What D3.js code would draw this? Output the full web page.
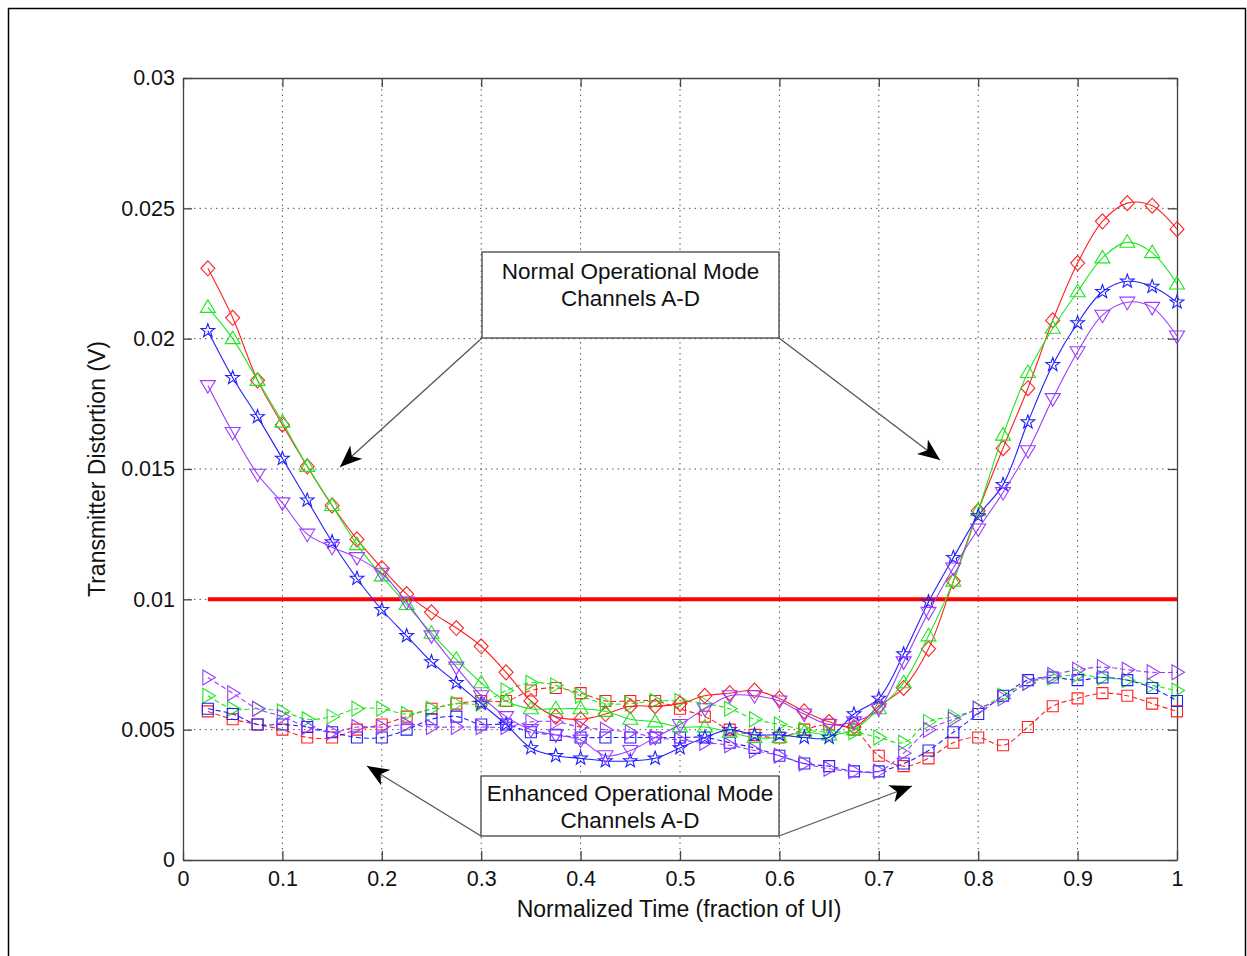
<!DOCTYPE html>
<html><head><meta charset="utf-8">
<script src="https://cdn.jsdelivr.net/npm/d3@7"></script>
<style>body{margin:0;background:#fff;} svg{display:block;font-family:"Liberation Sans",Arial,Helvetica,sans-serif;}</style>
</head><body>
<svg id="c" width="1247" height="956"></svg>
<script>
// ---------------- DATA ----------------
const timeValues = [0.025,0.05,0.075,0.1,0.125,0.15,0.175,0.2,0.225,0.25,0.275,0.3,0.325,0.35,0.375,0.4,0.425,0.45,0.475,0.5,0.525,0.55,0.575,0.6,0.625,0.65,0.675,0.7,0.725,0.75,0.775,0.8,0.825,0.85,0.875,0.9,0.925,0.95,0.975,1.0];

// Normal operational mode (solid lines)
const normalA = [0.0227,0.0208,0.0184,0.0167,0.0151,0.0136,0.0123,0.0112,0.0102,0.0095,0.0089,0.0082,0.0072,0.0061,0.0055,0.0054,0.0056,0.0059,0.0059,0.0060,0.0063,0.0064,0.0065,0.0062,0.0057,0.0053,0.0051,0.0059,0.0066,0.0081,0.0107,0.0134,0.0158,0.0181,0.0207,0.0229,0.0245,0.0252,0.0251,0.0242];
const normalB = [0.0212,0.0200,0.0184,0.0168,0.0151,0.0136,0.0121,0.0109,0.0098,0.0087,0.0077,0.0068,0.0061,0.0058,0.0058,0.0058,0.0057,0.0054,0.0053,0.0051,0.0051,0.0049,0.0047,0.0047,0.0049,0.0048,0.0050,0.0058,0.0068,0.0086,0.0107,0.0134,0.0163,0.0187,0.0204,0.0218,0.0231,0.0237,0.0233,0.0221];
const normalC = [0.0203,0.0185,0.0170,0.0154,0.0138,0.0122,0.0108,0.0096,0.0086,0.0076,0.0068,0.0060,0.0052,0.0043,0.0040,0.0039,0.0038,0.0038,0.0039,0.0043,0.0047,0.0050,0.0048,0.0048,0.0047,0.0047,0.0056,0.0062,0.0079,0.0099,0.0116,0.0132,0.0144,0.0168,0.0190,0.0206,0.0218,0.0222,0.0220,0.0214];
const normalD = [0.0182,0.0164,0.0148,0.0137,0.0125,0.0120,0.0116,0.0110,0.0099,0.0086,0.0074,0.0063,0.0055,0.0050,0.0048,0.0046,0.0040,0.0042,0.0047,0.0052,0.0058,0.0063,0.0063,0.0061,0.0056,0.0052,0.0053,0.0058,0.0076,0.0095,0.0112,0.0127,0.0141,0.0157,0.0177,0.0195,0.0209,0.0214,0.0212,0.0201];

// Enhanced operational mode (dashed lines)
const enhancedA = [0.0057,0.0054,0.0052,0.0050,0.0047,0.0047,0.0050,0.0052,0.0055,0.0058,0.0060,0.0061,0.0061,0.0065,0.0066,0.0064,0.0061,0.0061,0.0061,0.0058,0.0055,0.0050,0.0048,0.0047,0.0050,0.0052,0.0050,0.0040,0.0036,0.0039,0.0045,0.0047,0.0044,0.0051,0.0059,0.0062,0.0064,0.0063,0.0060,0.0057];
const enhancedB = [0.0063,0.0058,0.0058,0.0057,0.0054,0.0055,0.0058,0.0058,0.0056,0.0058,0.0060,0.0060,0.0065,0.0068,0.0067,0.0063,0.0060,0.0060,0.0061,0.0061,0.0060,0.0058,0.0054,0.0052,0.0050,0.0049,0.0049,0.0047,0.0045,0.0053,0.0055,0.0058,0.0063,0.0068,0.0070,0.0071,0.0070,0.0069,0.0067,0.0065];
const enhancedC = [0.0058,0.0056,0.0052,0.0052,0.0051,0.0049,0.0047,0.0047,0.0050,0.0054,0.0055,0.0052,0.0052,0.0049,0.0048,0.0047,0.0047,0.0047,0.0047,0.0047,0.0047,0.0045,0.0043,0.0040,0.0037,0.0036,0.0034,0.0034,0.0037,0.0042,0.0049,0.0056,0.0063,0.0069,0.0070,0.0069,0.0070,0.0069,0.0066,0.0061];
const enhancedD = [0.0070,0.0064,0.0058,0.0055,0.0051,0.0049,0.0051,0.0051,0.0052,0.0051,0.0051,0.0051,0.0051,0.0053,0.0053,0.0051,0.0050,0.0049,0.0047,0.0046,0.0045,0.0044,0.0042,0.0040,0.0037,0.0035,0.0034,0.0034,0.0041,0.0050,0.0054,0.0058,0.0062,0.0068,0.0071,0.0073,0.0074,0.0073,0.0072,0.0072];

const thresholdValue = 0.01;
const thresholdRange = [0.025, 1.0];

const xTicks = [0,0.1,0.2,0.3,0.4,0.5,0.6,0.7,0.8,0.9,1];
const xTickLabels = ["0","0.1","0.2","0.3","0.4","0.5","0.6","0.7","0.8","0.9","1"];
const yTicks = [0,0.005,0.01,0.015,0.02,0.025,0.03];
const yTickLabels = ["0","0.005","0.01","0.015","0.02","0.025","0.03"];

const xAxisTitle = "Normalized Time (fraction of UI)";
const yAxisTitle = "Transmitter Distortion (V)";
const normalNote = ["Normal Operational Mode","Channels A-D"];
const enhancedNote = ["Enhanced Operational Mode","Channels A-D"];

// ---------------- STYLE / LAYOUT ----------------
const series = [
  {v: enhancedA, color:"#ff2020", marker:"square", dash:"5,3"},
  {v: enhancedB, color:"#1fe61f", marker:"right", dash:"5,3"},
  {v: enhancedC, color:"#1f1fff", marker:"square", dash:"5,3"},
  {v: enhancedD, color:"#9a3cff", marker:"right", dash:"5,3"},
  {v: normalA, color:"#ff2020", marker:"diamond", dash:null},
  {v: normalB, color:"#1fe61f", marker:"up", dash:null},
  {v: normalC, color:"#1f1fff", marker:"star", dash:null},
  {v: normalD, color:"#9a3cff", marker:"down", dash:null}
];

const L = 183, R = 1177, T = 78, B = 860;
const FONT = "'Liberation Sans',Arial,sans-serif";
const svg = d3.select("#c");
svg.append("rect").attr("width",1247).attr("height",956).attr("fill","#fff");
// outer frame
svg.append("path").attr("d","M8.5,956 V8.5 H1245.5 V956").attr("fill","none").attr("stroke","#000").attr("stroke-width",1.5);

const x = d3.scaleLinear().domain([0,1]).range([L,R]);
const y = d3.scaleLinear().domain([0,0.03]).range([B,T]);

// grid
const grid = svg.append("g").attr("stroke","#555").attr("stroke-width",1).attr("stroke-dasharray","1.5,4");
xTicks.slice(1,-1).forEach(t=>grid.append("line").attr("x1",x(t)).attr("x2",x(t)).attr("y1",T).attr("y2",B));
yTicks.slice(1,-1).forEach(t=>grid.append("line").attr("x1",L).attr("x2",R).attr("y1",y(t)).attr("y2",y(t)));

// axes (MATLAB style, ticks inward on all sides)
const tick = 9;
const xAxB = d3.axisBottom(x).tickValues(xTicks).tickFormat((d,i)=>xTickLabels[i]).tickSizeInner(-tick).tickSizeOuter(0).tickPadding(11);
const xAxT = d3.axisTop(x).tickValues(xTicks).tickFormat("").tickSizeInner(-tick).tickSizeOuter(0);
const yAxL = d3.axisLeft(y).tickValues(yTicks).tickFormat((d,i)=>yTickLabels[i]).tickSizeInner(-tick).tickSizeOuter(0).tickPadding(8);
const yAxR = d3.axisRight(y).tickValues(yTicks).tickFormat("").tickSizeInner(-tick).tickSizeOuter(0);
function styleAx(g){ g.selectAll("path,line").attr("stroke","#444").attr("stroke-width",1.3); g.selectAll("text").attr("font-size",21.5).attr("fill","#111").attr("font-family",FONT); }
svg.append("g").attr("transform",`translate(0,${B})`).call(xAxB).call(styleAx);
svg.append("g").attr("transform",`translate(0,${T})`).call(xAxT).call(styleAx);
svg.append("g").attr("transform",`translate(${L},0)`).call(yAxL).call(styleAx);
svg.append("g").attr("transform",`translate(${R},0)`).call(yAxR).call(styleAx);
svg.selectAll(".domain").attr("stroke","#444");

// axis titles
svg.append("text").attr("x",679).attr("y",917).attr("text-anchor","middle").attr("font-size",23).attr("fill","#111").text(xAxisTitle);
svg.append("text").attr("transform",`translate(105,${(T+B)/2}) rotate(-90)`).attr("text-anchor","middle").attr("font-size",23).attr("fill","#111").text(yAxisTitle);

// threshold line
svg.append("line").attr("x1",x(thresholdRange[0])).attr("x2",x(thresholdRange[1])).attr("y1",y(thresholdValue)).attr("y2",y(thresholdValue)).attr("stroke","#ff0000").attr("stroke-width",4);

// markers
function markerPath(type){
  switch(type){
    case "diamond": return "M0,-7.5L7,0L0,7.5L-7,0Z";
    case "up": return "M0,-7.5L7.5,5L-7.5,5Z";
    case "down": return "M0,7.5L7.5,-5L-7.5,-5Z";
    case "right": return "M7.5,0L-5,-7.5L-5,7.5Z";
    case "square": return "M-5.5,-5.5H5.5V5.5H-5.5Z";
    case "star": {
      let p=""; for(let i=0;i<10;i++){const r=i%2?2.9:7.2; const a=-Math.PI/2+i*Math.PI/5; p+=(i?"L":"M")+(r*Math.cos(a)).toFixed(2)+","+(r*Math.sin(a)).toFixed(2);} return p+"Z";
    }
  }
}
const line = d3.line().x((d,i)=>x(timeValues[i])).y(d=>y(d)).curve(d3.curveCatmullRom.alpha(0.5));
series.forEach(s=>{
  const g = svg.append("g");
  g.append("path").attr("d",line(s.v)).attr("fill","none").attr("stroke",s.color).attr("stroke-width",1.1).attr("stroke-dasharray",s.dash);
  g.selectAll("path.m").data(s.v).join("path").attr("class","m")
    .attr("transform",(d,i)=>`translate(${x(timeValues[i])},${y(d)})`)
    .attr("d",markerPath(s.marker)).attr("fill","none").attr("stroke",s.color).attr("stroke-width",1.1);
});

// annotations
function arrow(x1,y1,x2,y2){
  svg.append("line").attr("x1",x1).attr("y1",y1).attr("x2",x2).attr("y2",y2).attr("stroke","#555").attr("stroke-width",1.3);
  const ang = Math.atan2(y2-y1,x2-x1);
  const len=22, w=9, back=16;
  const p = [[0,0],[-len,-w],[-back,0],[-len,w]].map(([a,b])=>[x2+a*Math.cos(ang)-b*Math.sin(ang), y2+a*Math.sin(ang)+b*Math.cos(ang)]);
  svg.append("path").attr("d","M"+p.map(q=>q.join(",")).join("L")+"Z").attr("fill","#000");
}
function note(x0,y0,w,h,lines,ly){
  svg.append("rect").attr("x",x0).attr("y",y0).attr("width",w).attr("height",h).attr("fill","#fff").attr("stroke","#444").attr("stroke-width",1.3);
  lines.forEach((t,i)=>svg.append("text").attr("x",x0+w/2).attr("y",ly[i]).attr("text-anchor","middle").attr("font-size",22.5).attr("fill","#111").text(t));
}
arrow(482,338,340,467);
arrow(779,338,940,460);
note(482,252,297,86,normalNote,[279,306]);
arrow(481,836,367,766);
arrow(779,836,912,786);
note(481,776,298,60,enhancedNote,[801,828]);
</script>
</body></html>
